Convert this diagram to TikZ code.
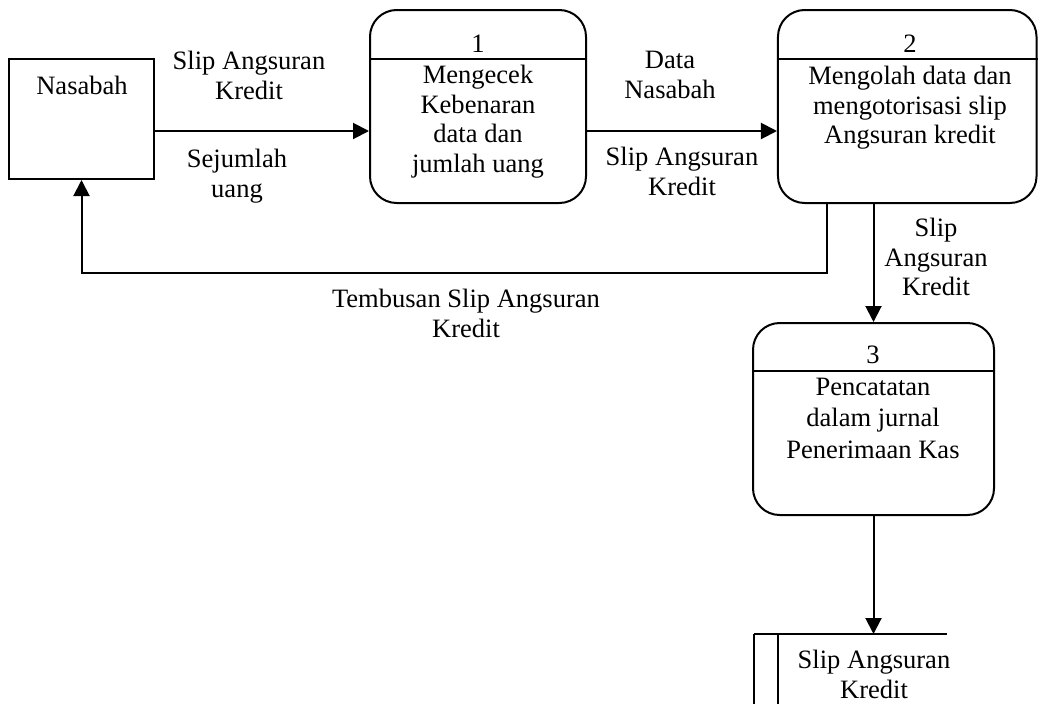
\documentclass[tikz,border=0pt]{standalone}
\usepackage{fontspec}
\setmainfont{Liberation Serif}
\usetikzlibrary{arrows.meta}
\begin{document}
\begin{tikzpicture}[x=0.75pt,y=-0.75pt,
  box/.style={draw, line width=1.5pt, inner sep=0pt},
  proc/.style={box, rounded corners=20pt},
  txt/.style={inner sep=0pt, align=center, font=\fontsize{19.9pt}{22.1pt}\selectfont},
  flow/.style={line width=1.5pt, -{Triangle[length=12pt,width=12pt]}},
  rule/.style={line width=1.5pt}]
\useasboundingbox (0,0) rectangle (1038,704);

% helper coordinates
\coordinate (row) at (0,131);
\coordinate (div) at (0,59);
\coordinate (div3) at (0,371);
\coordinate (ret) at (827,273);
\coordinate (ds) at (754,634);
\coordinate (dsin) at (778,634);
\coordinate (dsr) at (947,634);
\coordinate (bot) at (0,704);

% external entity
\node[box, minimum width=108.75pt, minimum height=90pt] (nas) at (81.5,119) {};
\node[txt] (nast) at (82,89) {\strut Nasabah};

% process 1
\node[proc, minimum width=162pt, minimum height=144.75pt] (p1) at (478,106.5) {};
\draw[rule] (p1.west |- div) -- (p1.east |- div);
\node[txt] (n1) at (478,47) {\strut 1};
\node[txt] (p1t) at (478,122) {\strut Mengecek\\\strut Kebenaran\\\strut data dan\\\strut jumlah uang};

% process 2
\node[proc, minimum width=193.9pt, minimum height=144.75pt] (p2) at (907.25,106.5) {};
\draw[rule] (p2.west |- div) -- (p2.east |- div);
\node[txt] (n2) at (910,47) {\strut 2};
\node[txt] (p2t) at (910,108.5) {\strut Mengolah data dan\\\strut mengotorisasi slip\\\strut Angsuran kredit};

% process 3
\node[proc, minimum width=180.75pt, minimum height=144pt] (p3) at (873.5,419) {};
\draw[rule] (p3.west |- div3) -- (p3.east |- div3);
\node[txt] (n3) at (873,358) {\strut 3};
\node[txt, font=\fontsize{19.9pt}{23.6pt}\selectfont] (p3t) at (873,420.5) {\strut Pencatatan\\\strut dalam jurnal\\\strut Penerimaan Kas};

% data store
\draw[rule] (ds) -- (dsr);
\draw[rule] (ds) -- (ds |- bot);
\draw[rule] (dsin) -- (dsin |- bot);
\node[txt, font=\fontsize{19.9pt}{22.5pt}\selectfont] (dst) at (874,677.5) {\strut Slip Angsuran\\\strut Kredit};

% flows
\draw[flow] (nas.east |- row) -- (p1.west |- row);
\draw[flow] (p1.east |- row) -- (p2.west |- row);
\draw[flow] (p2.south -| ret) -- (ret) -| (nas.south);
\draw[flow] (p2.south -| p3.north) -- (p3.north);
\draw[flow] (p3.south) -- (p3.south |- ds);

% flow labels
\node[txt] (l1) at (249,78.5) {\strut Slip Angsuran\\\strut Kredit};
\node[txt] (l2) at (237,176.5) {\strut Sejumlah\\\strut uang};
\node[txt] (l3) at (670,77.5) {\strut Data\\\strut Nasabah};
\node[txt] (l4) at (682,174.5) {\strut Slip Angsuran\\\strut Kredit};
\node[txt] (l5) at (936,260.5) {\strut Slip\\\strut Angsuran\\\strut Kredit};
\node[txt] (l6) at (466,316.5) {\strut Tembusan Slip Angsuran\\\strut Kredit};
\end{tikzpicture}
\end{document}
